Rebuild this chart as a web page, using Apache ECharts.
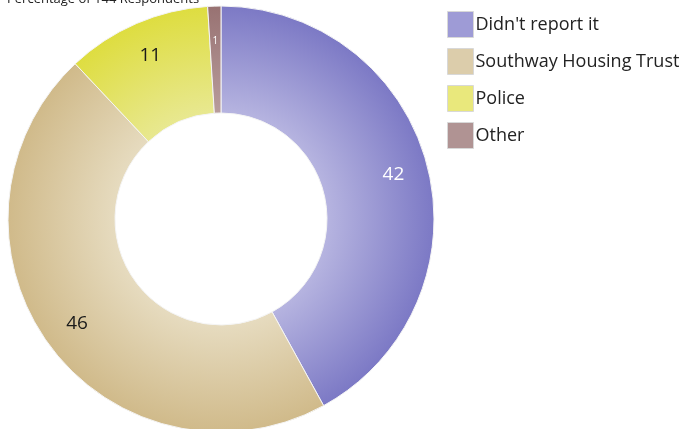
<!DOCTYPE html>
<html>
<head>
<meta charset="utf-8">
<script src="https://cdn.jsdelivr.net/npm/echarts@6/dist/echarts.min.js"></script>
<style>
  html, body { margin: 0; padding: 0; background: #ffffff; }
  #chart { width: 686px; height: 429px; }
</style>
</head>
<body>
<div id="chart"></div>
<script>
// Where people reported the problem, as a percentage of respondents
const titleText = 'Percentage of 144 Respondents';
const categories = ["Didn't report it", 'Southway Housing Trust', 'Police', 'Other'];
const values = [42, 46, 11, 1];

// Slice shading: lighter toward the hole, deeper toward the rim
const innerColors = ['#b6b4e0', '#e6dbbf', '#e8e890', '#b89c9c'];
const outerColors = ['#7c79c5', '#d0ba8a', '#dedd40', '#987272'];
const legendColors = ['#9e9bd6', '#dccdab', '#e9e87c', '#b09393'];
const labelColors = ['#ffffff', '#1a1a1a', '#1a1a1a', '#ffffff'];
const labelSizes = [19, 19, 19, 10];

const cx = 221, cy = 219, rOuter = 213, rInner = 106;

const chart = echarts.init(document.getElementById('chart'), null, { renderer: 'canvas' });

const sliceData = categories.map((name, i) => ({
  name: name,
  value: values[i],
  itemStyle: {
    color: {
      type: 'radial', x: cx, y: cy, r: rOuter, global: true,
      colorStops: [
        { offset: rInner / rOuter, color: innerColors[i] },
        { offset: 1, color: outerColors[i] }
      ]
    }
  }
}));

// Transparent ring used only to place the value labels a little past mid-band
const labelData = categories.map((name, i) => ({
  name: name,
  value: values[i],
  itemStyle: { color: 'rgba(0,0,0,0)', borderWidth: 0 },
  label: { color: labelColors[i], fontSize: labelSizes[i] }
}));

chart.setOption({
  animation: false,
  color: legendColors,
  title: {
    text: titleText,
    left: 2,
    top: -12,
    textStyle: { fontFamily: 'Open Sans', fontSize: 13, fontWeight: 'normal', color: '#222' }
  },
  legend: {
    orient: 'vertical',
    left: 442,
    top: 6,
    itemWidth: 26,
    itemHeight: 26,
    itemGap: 10,
    icon: 'rect',
    data: categories.map((name, i) => ({
      name: name,
      itemStyle: { color: legendColors[i], borderColor: '#d8d8d8', borderWidth: 1 }
    })),
    textStyle: { fontFamily: 'Open Sans', fontSize: 18, color: '#222', padding: [0, 0, 0, -3] }
  },
  series: [
    {
      type: 'pie',
      name: 'slices',
      center: [cx, cy],
      radius: [rInner, rOuter],
      startAngle: 90,
      clockwise: true,
      silent: true,
      label: { show: false },
      labelLine: { show: false },
      itemStyle: { borderColor: '#f4f4f4', borderWidth: 1 },
      data: sliceData
    },
    {
      type: 'pie',
      name: 'labels',
      center: [cx, cy],
      radius: [137, rOuter],
      startAngle: 90,
      clockwise: true,
      silent: true,
      label: {
        show: true,
        position: 'inside',
        formatter: '{c}',
        fontFamily: 'Open Sans'
      },
      labelLine: { show: false },
      data: labelData
    }
  ]
});
</script>
</body>
</html>
